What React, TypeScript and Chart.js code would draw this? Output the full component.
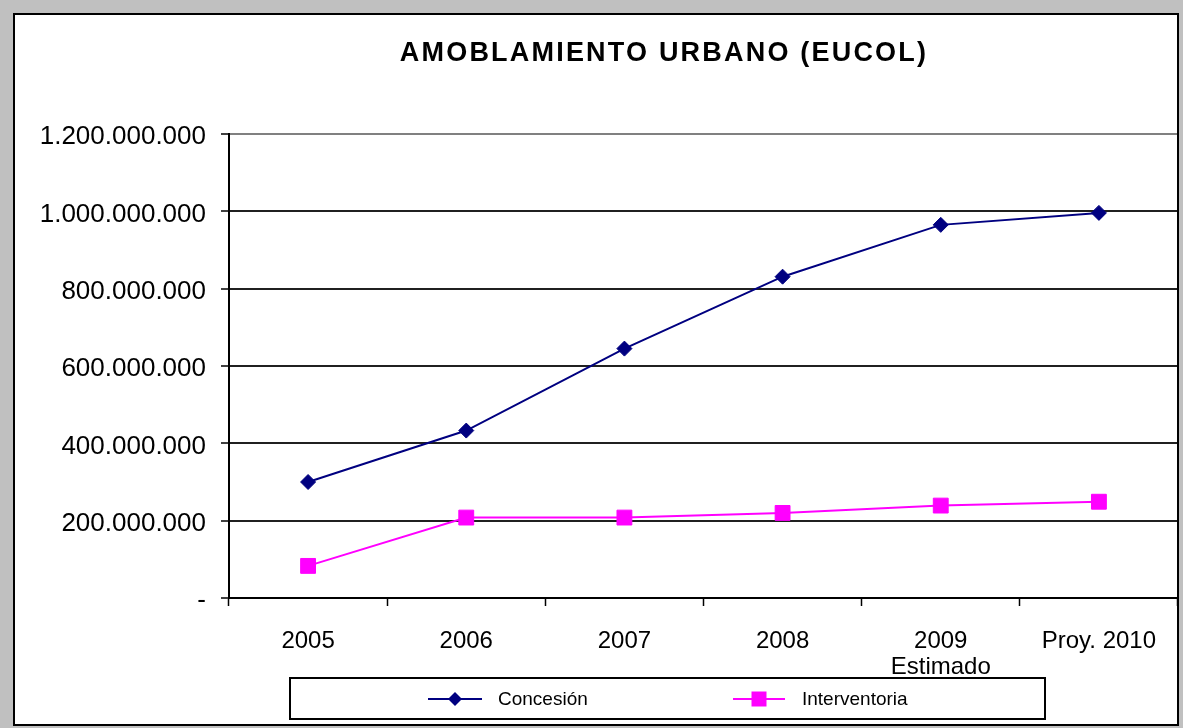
import React, { useEffect, useRef } from 'react';
import { Chart, registerables } from 'chart.js';

Chart.register(...registerables);

const chartTitle = 'AMOBLAMIENTO URBANO (EUCOL)';
const categories: (string | string[])[] = ['2005', '2006', '2007', '2008', ['2009', 'Estimado'], 'Proy. 2010'];
const seriesNames = ['Concesión', 'Interventoria'];
const concesion = [300000000, 433000000, 645000000, 831000000, 965000000, 996000000];
const interventoria = [83000000, 208000000, 208000000, 220000000, 239000000, 249000000];
const yMin = 0;
const yMax = 1200000000;
const yStep = 200000000;

const FONT = "'Liberation Sans', Arial, sans-serif";
const NAVY = '#000080';
const MAGENTA = '#ff00ff';

function fmt(v: number): string {
  if (v === 0) return '-';
  return Math.round(v).toString().replace(/\B(?=(\d{3})+(?!\d))/g, '.');
}

function drawMarker(ctx: CanvasRenderingContext2D, style: string, x: number, y: number, color: string) {
  ctx.save();
  ctx.fillStyle = color;
  ctx.beginPath();
  if (style === 'rectRot') {
    const r = 7;
    ctx.moveTo(x, y - r);
    ctx.lineTo(x + r, y);
    ctx.lineTo(x, y + r);
    ctx.lineTo(x - r, y);
    ctx.closePath();
  } else {
    const s = 7.5;
    ctx.rect(x - s, y - s, 2 * s, 2 * s);
  }
  ctx.fill();
  ctx.restore();
}

const framePlugin = {
  id: 'frame',
  beforeDraw(chart: any) {
    const ctx = chart.ctx as CanvasRenderingContext2D;
    ctx.save();
    ctx.fillStyle = '#c0c0c0';
    ctx.fillRect(0, 0, chart.width, chart.height);
    ctx.fillStyle = '#ffffff';
    ctx.fillRect(13, 13, 1166, 713);
    ctx.restore();
  },
  afterDraw(chart: any) {
    const ctx = chart.ctx as CanvasRenderingContext2D;
    ctx.save();
    // outer border
    ctx.strokeStyle = '#000';
    ctx.lineWidth = 2;
    ctx.strokeRect(14, 14, 1164, 711);

    // title
    ctx.fillStyle = '#000';
    ctx.font = `bold 27px ${FONT}`;
    (ctx as any).letterSpacing = '2.2px';
    ctx.textAlign = 'center';
    ctx.textBaseline = 'alphabetic';
    ctx.fillText(chartTitle, 664, 61);
    (ctx as any).letterSpacing = '0px';

    // legend box
    ctx.fillStyle = '#fff';
    ctx.fillRect(290, 678, 755, 41);
    ctx.strokeStyle = '#000';
    ctx.lineWidth = 2;
    ctx.strokeRect(290, 678, 755, 41);

    const items = [
      { label: chart.data.datasets[0].label, color: NAVY, style: 'rectRot', x0: 428, x1: 482, tx: 498 },
      { label: chart.data.datasets[1].label, color: MAGENTA, style: 'rect', x0: 733, x1: 785, tx: 802 },
    ];
    const ly = 699;
    items.forEach((it) => {
      ctx.strokeStyle = it.color;
      ctx.lineWidth = 2;
      ctx.beginPath();
      ctx.moveTo(it.x0, ly);
      ctx.lineTo(it.x1, ly);
      ctx.stroke();
      drawMarker(ctx, it.style, (it.x0 + it.x1) / 2, ly, it.color);
      ctx.fillStyle = '#000';
      ctx.font = `19px ${FONT}`;
      ctx.textAlign = 'left';
      ctx.textBaseline = 'middle';
      ctx.fillText(it.label, it.tx, ly + 1);
    });
    ctx.restore();
  },
};

export default function App() {
  const canvasRef = useRef<HTMLCanvasElement | null>(null);

  useEffect(() => {
    document.body.style.margin = '0';
    const canvas = canvasRef.current;
    if (!canvas) return;
    const chart = new Chart(canvas, {
      type: 'line',
      data: {
        labels: categories as any,
        datasets: [
          {
            label: seriesNames[0],
            data: concesion,
            borderColor: NAVY,
            backgroundColor: NAVY,
            borderWidth: 2,
            pointStyle: 'rectRot',
            pointRadius: 7.5,
            pointBorderWidth: 1,
            pointBackgroundColor: NAVY,
            pointBorderColor: NAVY,
            tension: 0,
          },
          {
            label: seriesNames[1],
            data: interventoria,
            borderColor: MAGENTA,
            backgroundColor: MAGENTA,
            borderWidth: 2,
            pointStyle: 'rect',
            pointRadius: 10.5,
            pointBorderWidth: 1,
            pointBackgroundColor: MAGENTA,
            pointBorderColor: MAGENTA,
            tension: 0,
          },
        ],
      },
      options: {
        responsive: false,
        animation: false,
        devicePixelRatio: 1,
        layout: { autoPadding: false, padding: { top: 134, left: 0, right: 5, bottom: 40 } },
        plugins: {
          legend: { display: false },
          title: { display: false },
          tooltip: { enabled: false },
        },
        scales: {
          x: {
            type: 'category',
            offset: true,
            grid: {
              offset: true,
              drawOnChartArea: false,
              drawTicks: true,
              tickLength: 8,
              tickColor: '#000',
              tickWidth: 1.5,
            },
            border: { display: true, color: '#000', width: 2 },
            ticks: {
              color: '#000',
              font: { family: FONT, size: 24, lineHeight: 1.1 },
              padding: 22,
              maxRotation: 0,
              autoSkip: false,
            },
            afterFit(scale: any) {
              scale.height = 90;
            },
          },
          y: {
            min: yMin,
            max: yMax,
            grid: {
              color: (c: any) => (c.tick && c.tick.value === yMax ? '#808080' : '#202020'),
              lineWidth: 2,
              drawTicks: true,
              tickLength: 8,
              tickColor: '#000',
              tickWidth: 1.5,
            },
            border: { display: true, color: '#000', width: 2 },
            ticks: {
              stepSize: yStep,
              color: '#000',
              font: { family: FONT, size: 26 },
              padding: 15,
              labelOffset: 3,
              callback: (v: any) => fmt(Number(v)),
            },
            afterFit(scale: any) {
              scale.width = 229;
            },
          },
        },
      },
      plugins: [framePlugin],
    });
    return () => chart.destroy();
  }, []);

  return (
    <div style={{ width: 1183, height: 728 }}>
      <canvas ref={canvasRef} width={1183} height={728} style={{ display: 'block' }} />
    </div>
  );
}
